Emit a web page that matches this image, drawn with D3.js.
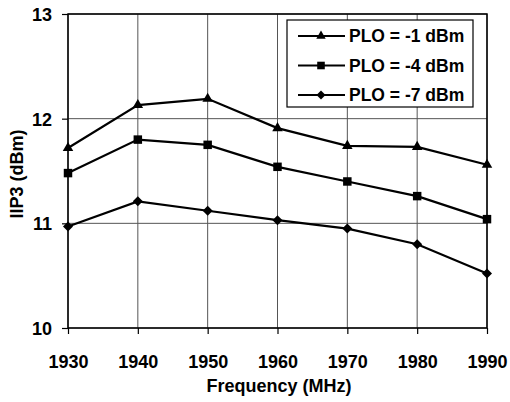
<!DOCTYPE html>
<html>
<head>
<meta charset="utf-8">
<script src="https://cdn.jsdelivr.net/npm/d3@7"></script>
<style>
  body { margin: 0; background: #fff; }
  text { font-family: "Liberation Sans", Arial, sans-serif; font-weight: bold; }
</style>
</head>
<body>
<svg width="510" height="402"></svg>
<script>
// Frequency points (MHz)
var freqs = [1930, 1940, 1950, 1960, 1970, 1980, 1990];
var yTicks = [10, 11, 12, 13];

// IIP3 (dBm) per LO power
var plo1 = [11.72, 12.13, 12.19, 11.91, 11.74, 11.73, 11.56];
var plo4 = [11.48, 11.80, 11.75, 11.54, 11.40, 11.26, 11.04];
var plo7 = [10.97, 11.21, 11.12, 11.03, 10.95, 10.80, 10.52];

var seriesNames = ["PLO = -1 dBm", "PLO = -4 dBm", "PLO = -7 dBm"];
var series = [
  {name: seriesNames[0], values: plo1, symbol: d3.symbolTriangle, size: 48, rot: 0},
  {name: seriesNames[1], values: plo4, symbol: d3.symbolSquare, size: 72, rot: 0},
  {name: seriesNames[2], values: plo7, symbol: d3.symbolSquare, size: 50, rot: 45}
];

var svg = d3.select("svg"),
    margin = {top: 14, right: 23, bottom: 74, left: 68},
    width = +svg.attr("width") - margin.left - margin.right,
    height = +svg.attr("height") - margin.top - margin.bottom,
    g = svg.append("g").attr("transform", "translate(" + margin.left + "," + margin.top + ")");

var x = d3.scaleLinear().domain([1930, 1990]).range([0, width]);
var y = d3.scaleLinear().domain([10, 13]).range([height, 0]);

// grid
g.append("g").selectAll("line")
  .data(freqs)
  .enter().append("line")
    .attr("x1", d => x(d)).attr("x2", d => x(d))
    .attr("y1", 0).attr("y2", height)
    .attr("stroke", "#555").attr("stroke-width", 1);

g.append("g").selectAll("line")
  .data(yTicks)
  .enter().append("line")
    .attr("x1", 0).attr("x2", width)
    .attr("y1", d => y(d)).attr("y2", d => y(d))
    .attr("stroke", "#555").attr("stroke-width", 1);

// axes
var xAxis = g.append("g")
    .attr("transform", "translate(0," + height + ")")
    .call(d3.axisBottom(x).tickValues(freqs).tickFormat(d3.format("d")).tickSize(6).tickPadding(21));
var yAxis = g.append("g")
    .call(d3.axisLeft(y).tickValues(yTicks).tickFormat(d3.format("d")).tickSize(6).tickPadding(10));

[xAxis, yAxis].forEach(function(a) {
  a.select(".domain").remove();
  a.selectAll("line").attr("stroke", "#000").attr("stroke-width", 1.2);
  a.selectAll("text").style("font-size", "18px").attr("fill", "#000");
});
yAxis.selectAll("text").attr("dy", "0.36em");

// plot border
g.append("rect")
  .attr("width", width).attr("height", height)
  .attr("fill", "none").attr("stroke", "#000").attr("stroke-width", 1.5);

// series lines and markers
var line = d3.line().x((d, i) => x(freqs[i])).y(d => y(d));

series.forEach(function(s) {
  g.append("path")
    .datum(s.values)
    .attr("d", line)
    .attr("fill", "none")
    .attr("stroke", "#000")
    .attr("stroke-width", 2.2);

  g.selectAll(null)
    .data(s.values)
    .enter().append("path")
      .attr("d", d3.symbol().type(s.symbol).size(s.size))
      .attr("transform", (d, i) => "translate(" + x(freqs[i]) + "," + y(d) + ") rotate(" + s.rot + ")")
      .attr("fill", "#000");
});

// legend
var legend = svg.append("g").attr("transform", "translate(287,20)");
legend.append("rect")
  .attr("width", 186).attr("height", 87)
  .attr("fill", "#fff").attr("stroke", "#000").attr("stroke-width", 1.2);

series.forEach(function(s, i) {
  var row = legend.append("g").attr("transform", "translate(0," + (16 + i * 29.5) + ")");
  row.append("line")
    .attr("x1", 11).attr("x2", 58)
    .attr("stroke", "#000").attr("stroke-width", 2.2);
  row.append("path")
    .attr("d", d3.symbol().type(s.symbol).size(s.size * 0.8))
    .attr("transform", "translate(34,0) rotate(" + s.rot + ")")
    .attr("fill", "#000");
  row.append("text")
    .attr("x", 62).attr("dy", "0.36em")
    .style("font-size", "17.5px")
    .text(s.name);
});

// axis titles
svg.append("text")
  .attr("x", 279).attr("y", 392)
  .attr("text-anchor", "middle")
  .style("font-size", "18px")
  .text("Frequency (MHz)");

svg.append("text")
  .attr("transform", "translate(23,174) rotate(-90)")
  .attr("text-anchor", "middle")
  .style("font-size", "18px")
  .text("IIP3 (dBm)");
</script>
</body>
</html>
